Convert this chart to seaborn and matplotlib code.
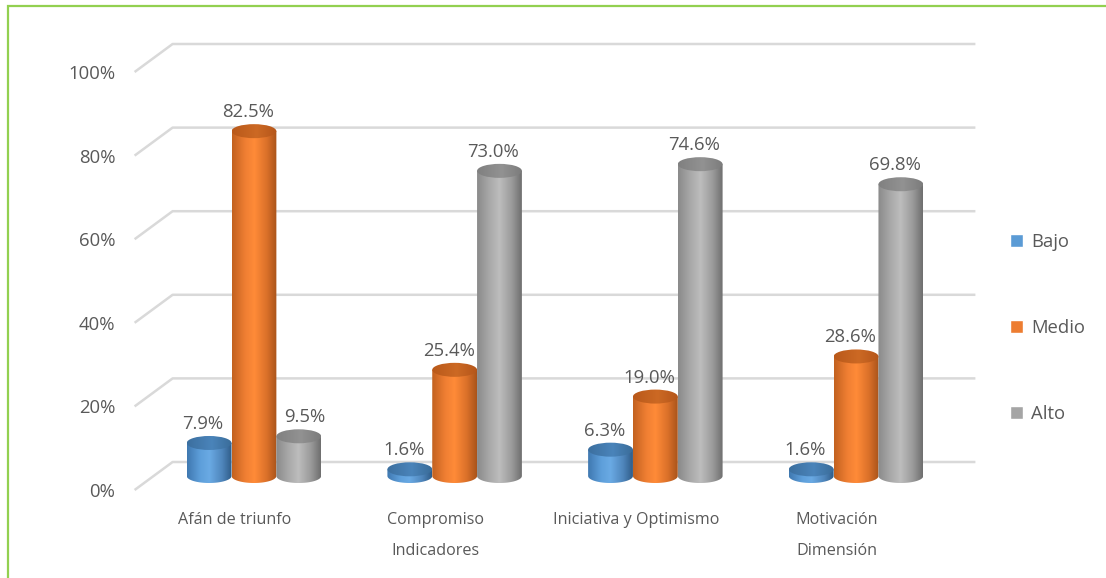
import numpy as np
import pandas as pd
import seaborn as sns
import matplotlib
matplotlib.use("Agg")
import matplotlib.pyplot as plt
from matplotlib import transforms as mtransforms
from matplotlib.patches import Ellipse, Rectangle, PathPatch
from matplotlib.path import Path
from matplotlib.colors import LinearSegmentedColormap

# ---- data -------------------------------------------------------------
categories = ["Afán de triunfo", "Compromiso", "Iniciativa y Optimismo", "Motivación"]
groups = ["Indicadores", "Indicadores", "Indicadores", "Dimensión"]
levels = ["Bajo", "Medio", "Alto"]
bajo = [7.9, 1.6, 6.3, 1.6]
medio = [82.5, 25.4, 19.0, 28.6]
alto = [9.5, 73.0, 74.6, 69.8]
yticks = [0, 20, 40, 60, 80, 100]

df = pd.DataFrame({
    "categoria": categories * 3,
    "nivel": [lv for lv in levels for _ in categories],
    "valor": bajo + medio + alto,
})

# ---- style ------------------------------------------------------------
sns.set_theme(style="white")
plt.rcParams["font.family"] = ["Open Sans", "DejaVu Sans"]
text_color = "#595959"
base_colors = {"Bajo": "#5B9BD5", "Medio": "#ED7D31", "Alto": "#A5A5A5"}
body_ramps = {
    "Bajo": ["#3F78B0", "#5E9FDB", "#6AAAE4", "#4F86BC", "#2F5C88"],
    "Medio": ["#C2611F", "#F07F33", "#FF8B38", "#DA7029", "#A9531A"],
    "Alto": ["#8A8A8A", "#ABABAB", "#BDBDBD", "#9A9A9A", "#6E6E6E"],
}
cap_ramps = {
    "Bajo": ["#3C6F9F", "#4A84BA", "#3A6C99"],
    "Medio": ["#B9591A", "#CC6924", "#B5561A"],
    "Alto": ["#808080", "#929292", "#7C7C7C"],
}
big_font = 13.3
small_font = 11.6

W, H, DPI = 1106, 578, 100
fig = plt.figure(figsize=(W / DPI, H / DPI), dpi=DPI)
fig.patch.set_facecolor("white")

# front plane of the plot box, in pixels
x0_px, x1_px = 134.6, 937.4
y0_px, y1_px = 490.0, 72.0      # 0 % and 100 % (measured from top)
ax = fig.add_axes([x0_px / W, 1 - y0_px / H,
                   (x1_px - x0_px) / W, (y0_px - y1_px) / H])

sns.barplot(data=df, x="categoria", y="valor", hue="nivel",
            order=categories, hue_order=levels, palette=base_colors,
            width=0.67, gap=0, saturation=1, ax=ax, legend=True, zorder=3)

ax.set_xlim(-0.5, len(categories) - 0.5)
ax.set_ylim(0, 100)

px_per_cat = (x1_px - x0_px) / len(categories)
px_per_unit = (y0_px - y1_px) / 100.0

# depth of the 3-D box (pixels); bars stand half way back
depth_x, depth_y = 38.0, 28.0
back_dx, back_dy = depth_x / px_per_cat, depth_y / px_per_unit
mid_trans = mtransforms.offset_copy(ax.transData, fig=fig,
                                    x=depth_x / 2, y=depth_y / 2, units="dots")

# ---- back-wall gridlines with the diagonal floor edge -------------------
for v in yticks:
    ax.plot([-0.5, -0.5 + back_dx, len(categories) - 0.5 + back_dx],
            [v, v + back_dy, v + back_dy],
            color="#D9D9D9", lw=1.8, zorder=0, clip_on=False,
            solid_capstyle="butt")

# ---- cylinders ----------------------------------------------------------
cap_px = 14.0
cap_h = cap_px / px_per_unit
label_px = 19.0
bars = [p for p in ax.patches if isinstance(p, Rectangle) and p.get_height() > 0]
bars = sorted(bars, key=lambda p: p.get_x())

def level_of(patch):
    xc = patch.get_x() + patch.get_width() / 2
    off = xc - round(xc)
    return levels[int(np.argmin([abs(off - o) for o in
                                 (-patch.get_width(), 0, patch.get_width())]))]

grad = np.linspace(0, 1, 256).reshape(1, -1)
for i, p in enumerate(bars):
    lv = level_of(p)
    x, w, h = p.get_x(), p.get_width(), p.get_height()
    p.set_transform(mid_trans)
    p.set_visible(False)

    # body outline: rectangle with a rounded (half-ellipse) bottom
    t = np.linspace(np.pi, 2 * np.pi, 40)
    arc_x = x + w / 2 + (w / 2) * np.cos(t)
    arc_y = (cap_h / 2) * np.sin(t)
    verts = [(x, h)] + list(zip(arc_x, arc_y)) + [(x + w, h), (x, h)]
    codes = [Path.MOVETO] + [Path.LINETO] * (len(verts) - 2) + [Path.CLOSEPOLY]
    body = PathPatch(Path(verts, codes), transform=mid_trans,
                     facecolor="none", edgecolor="none")
    ax.add_patch(body)
    cmap = LinearSegmentedColormap.from_list(
        lv, list(zip([0, 0.3, 0.5, 0.78, 1], body_ramps[lv])))
    im = ax.imshow(grad, cmap=cmap, aspect="auto", interpolation="bilinear",
                   extent=(x, x + w, -cap_h, h), transform=mid_trans,
                   zorder=4)
    im.set_clip_path(body)

    # top cap
    cap = Ellipse((x + w / 2, h), w, cap_h, transform=mid_trans,
                  facecolor="none", edgecolor="none")
    ax.add_patch(cap)
    cmap_c = LinearSegmentedColormap.from_list(
        lv + "c", list(zip([0, 0.55, 1], cap_ramps[lv])))
    imc = ax.imshow(grad, cmap=cmap_c, aspect="auto", interpolation="bilinear",
                    extent=(x, x + w, h - cap_h, h + cap_h),
                    transform=mid_trans, zorder=5)
    imc.set_clip_path(cap)

    # value label; nudged right when the bar on its left rises past it
    dx_px = -6.0
    if i > 0 and lv != levels[0]:
        left = bars[i - 1]
        if left.get_height() > h + 2 * label_px / px_per_unit:
            dx_px = 6.0
    ax.annotate(f"{h:.1f}%", xy=(x + w / 2, h), xycoords=mid_trans,
                xytext=(dx_px / 1.389, label_px / 1.389), textcoords="offset points",
                ha="center", va="center", fontsize=big_font, color=text_color,
                zorder=6, annotation_clip=False)

ax.set_xlim(-0.5, len(categories) - 0.5)
ax.set_ylim(0, 100)

# ---- axes decoration ------------------------------------------------------
sns.despine(ax=ax, left=True, bottom=True)
ax.set_yticks(yticks)
ax.set_yticklabels([f"{v}%" for v in yticks])
ax.tick_params(axis="y", length=0, pad=14, labelsize=big_font, labelcolor=text_color)
ax.tick_params(axis="x", length=0, pad=16, labelsize=small_font, labelcolor=text_color)
ax.set_xlabel("")
ax.set_ylabel("")
ax.grid(False)
ax.patch.set_alpha(0)

# second-level category labels
for g in dict.fromkeys(groups):
    idx = [i for i, gg in enumerate(groups) if gg == g]
    ax.text(np.mean(idx), -61 / px_per_unit, g, ha="center", va="center",
            fontsize=small_font, color=text_color, clip_on=False)

# ---- legend ---------------------------------------------------------------
handles = [Rectangle((0, 0), 1, 1, facecolor=base_colors[lv]) for lv in levels]
ax.legend(handles, levels, loc="center left", bbox_to_anchor=(993 / W, 1 - 328 / H),
          bbox_transform=fig.transFigure, frameon=False, fontsize=big_font,
          handlelength=0.7, handleheight=0.7, handletextpad=0.45,
          labelspacing=3.7, labelcolor=text_color)

# green frame around the chart area
fig.add_artist(Rectangle((8 / W, -0.1), 1.2, 1.1 - 6 / H,
                         transform=fig.transFigure, fill=False,
                         edgecolor="#92D050", lw=1.6))

fig.savefig("out.png", dpi=DPI)
